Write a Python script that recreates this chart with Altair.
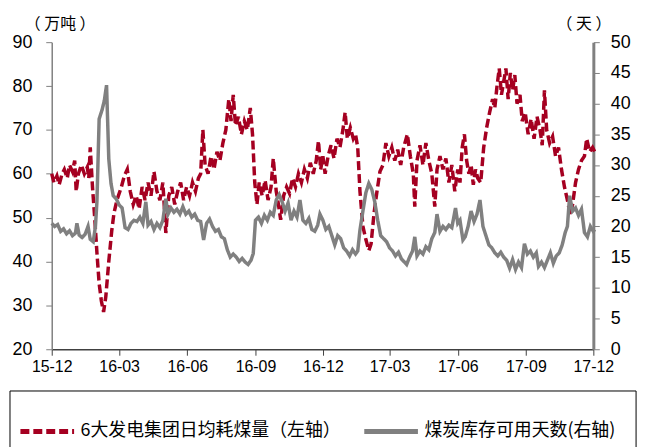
import altair as alt
import pandas as pd

RED = "#A50021"
GREY = "#808080"
S1 = "6大发电集团日均耗煤量（左轴）"
S2 = "煤炭库存可用天数(右轴)"

red_pts = [
    ("2015-12-01", 60), ("2015-12-04", 58), ("2015-12-08", 59.5), ("2015-12-11", 57.5),
    ("2015-12-15", 60), ("2015-12-18", 61), ("2015-12-22", 59), ("2015-12-25", 62),
    ("2015-12-29", 60.5), ("2016-01-01", 63), ("2016-01-03", 56), ("2016-01-06", 60),
    ("2016-01-10", 62), ("2016-01-14", 60), ("2016-01-18", 61.5), ("2016-01-20", 59),
    ("2016-01-22", 66), ("2016-01-25", 57), ("2016-01-28", 50), ("2016-01-31", 42),
    ("2016-02-03", 35), ("2016-02-06", 31), ("2016-02-09", 28.5), ("2016-02-12", 32),
    ("2016-02-16", 40), ("2016-02-20", 47), ("2016-02-23", 51), ("2016-02-27", 54),
    ("2016-03-04", 57), ("2016-03-08", 59.5), ("2016-03-12", 61), ("2016-03-16", 56),
    ("2016-03-20", 53), ("2016-03-24", 55), ("2016-03-28", 52), ("2016-04-01", 57),
    ("2016-04-05", 54), ("2016-04-09", 58), ("2016-04-13", 55), ("2016-04-17", 60.5),
    ("2016-04-21", 56), ("2016-04-25", 54), ("2016-04-29", 58), ("2016-05-03", 46.5),
    ("2016-05-07", 55), ("2016-05-11", 57), ("2016-05-15", 53), ("2016-05-19", 56),
    ("2016-05-23", 58), ("2016-05-27", 54), ("2016-05-31", 57), ("2016-06-04", 55),
    ("2016-06-08", 58), ("2016-06-12", 56), ("2016-06-16", 59), ("2016-06-19", 60),
    ("2016-06-22", 70), ("2016-06-25", 62), ("2016-06-29", 60), ("2016-07-03", 64),
    ("2016-07-07", 61), ("2016-07-11", 65), ("2016-07-15", 63), ("2016-07-19", 67),
    ("2016-07-23", 70), ("2016-07-27", 77), ("2016-07-30", 72), ("2016-08-02", 78),
    ("2016-08-05", 71), ("2016-08-09", 73), ("2016-08-13", 69), ("2016-08-17", 72),
    ("2016-08-21", 70), ("2016-08-25", 75), ("2016-08-28", 69), ("2016-08-31", 58),
    ("2016-09-03", 53), ("2016-09-06", 58), ("2016-09-10", 55), ("2016-09-14", 58.5),
    ("2016-09-18", 54), ("2016-09-22", 57), ("2016-09-25", 63.5), ("2016-09-29", 56),
    ("2016-10-02", 53), ("2016-10-05", 49.5), ("2016-10-09", 55), ("2016-10-13", 57),
    ("2016-10-17", 55.5), ("2016-10-21", 59), ("2016-10-25", 57), ("2016-10-29", 60),
    ("2016-11-02", 58), ("2016-11-06", 61), ("2016-11-10", 59), ("2016-11-14", 62.5),
    ("2016-11-18", 60), ("2016-11-22", 63), ("2016-11-25", 67.5), ("2016-11-28", 61),
    ("2016-12-01", 64), ("2016-12-04", 60), ("2016-12-08", 64), ("2016-12-12", 66.5),
    ("2016-12-16", 63.5), ("2016-12-20", 68), ("2016-12-24", 66), ("2016-12-28", 70),
    ("2016-12-31", 74), ("2017-01-03", 68), ("2017-01-07", 70.5), ("2017-01-11", 68),
    ("2017-01-14", 69), ("2017-01-17", 66), ("2017-01-20", 56), ("2017-01-24", 48),
    ("2017-01-28", 45), ("2017-02-01", 42.5), ("2017-02-04", 44), ("2017-02-08", 51),
    ("2017-02-12", 56), ("2017-02-16", 60.5), ("2017-02-20", 62), ("2017-02-24", 67),
    ("2017-02-28", 64), ("2017-03-04", 66), ("2017-03-08", 63), ("2017-03-12", 65.5),
    ("2017-03-16", 62), ("2017-03-20", 66), ("2017-03-25", 69), ("2017-03-29", 64),
    ("2017-04-02", 60), ("2017-04-04", 52.5), ("2017-04-07", 63), ("2017-04-11", 66.5),
    ("2017-04-15", 62), ("2017-04-19", 67), ("2017-04-23", 63), ("2017-04-27", 60),
    ("2017-05-01", 52.5), ("2017-05-04", 61), ("2017-05-08", 64), ("2017-05-12", 61),
    ("2017-05-16", 63.5), ("2017-05-20", 58), ("2017-05-24", 62), ("2017-05-28", 56),
    ("2017-06-01", 61), ("2017-06-04", 58), ("2017-06-07", 66), ("2017-06-10", 69),
    ("2017-06-13", 63), ("2017-06-16", 60), ("2017-06-19", 62), ("2017-06-22", 57.5),
    ("2017-06-25", 61), ("2017-06-28", 59), ("2017-07-02", 58), ("2017-07-06", 66),
    ("2017-07-10", 70.5), ("2017-07-14", 74), ("2017-07-18", 77), ("2017-07-21", 75),
    ("2017-07-24", 80), ("2017-07-27", 84), ("2017-07-30", 78), ("2017-08-02", 81),
    ("2017-08-05", 84), ("2017-08-08", 77), ("2017-08-11", 83), ("2017-08-14", 79),
    ("2017-08-17", 82.5), ("2017-08-20", 76), ("2017-08-24", 78), ("2017-08-27", 72),
    ("2017-08-31", 74), ("2017-09-04", 69), ("2017-09-08", 72.5), ("2017-09-12", 68),
    ("2017-09-16", 73), ("2017-09-20", 70), ("2017-09-23", 66.5), ("2017-09-26", 79),
    ("2017-09-29", 70), ("2017-10-03", 67), ("2017-10-07", 68.5), ("2017-10-11", 64),
    ("2017-10-15", 66), ("2017-10-19", 61), ("2017-10-23", 57), ("2017-10-27", 54),
    ("2017-10-31", 50.5), ("2017-11-03", 53), ("2017-11-07", 58), ("2017-11-11", 61),
    ("2017-11-15", 63), ("2017-11-19", 64), ("2017-11-22", 68), ("2017-11-26", 65),
    ("2017-11-30", 66), ("2017-12-03", 65),
]

grey_pts = [
    ("2015-12-01", 20.5), ("2015-12-05", 20), ("2015-12-09", 20.3), ("2015-12-13", 19.2),
    ("2015-12-17", 19.6), ("2015-12-21", 18.8), ("2015-12-25", 19.3), ("2015-12-29", 18.5),
    ("2016-01-02", 18.9), ("2016-01-04", 20.5), ("2016-01-07", 18.6), ("2016-01-11", 18.2),
    ("2016-01-15", 18.7), ("2016-01-19", 20), ("2016-01-22", 17.9), ("2016-01-26", 17.5),
    ("2016-01-29", 20), ("2016-01-31", 24), ("2016-02-03", 37.5), ("2016-02-07", 39),
    ("2016-02-10", 40.5), ("2016-02-13", 43), ("2016-02-16", 31), ("2016-02-19", 27),
    ("2016-02-22", 25), ("2016-02-26", 24.5), ("2016-03-01", 23.5), ("2016-03-05", 23),
    ("2016-03-09", 19.8), ("2016-03-13", 19.5), ("2016-03-17", 20.5), ("2016-03-21", 21),
    ("2016-03-25", 20.8), ("2016-03-29", 21.5), ("2016-04-02", 20.5), ("2016-04-06", 24),
    ("2016-04-09", 20.2), ("2016-04-13", 20.8), ("2016-04-17", 19.5), ("2016-04-21", 20.5),
    ("2016-04-25", 19.8), ("2016-04-29", 21), ("2016-05-03", 24.5), ("2016-05-06", 22),
    ("2016-05-10", 23), ("2016-05-14", 22.3), ("2016-05-18", 22.8), ("2016-05-22", 22),
    ("2016-05-26", 23.2), ("2016-05-30", 22), ("2016-06-03", 22.5), ("2016-06-07", 21.5),
    ("2016-06-11", 22), ("2016-06-15", 21), ("2016-06-19", 20.8), ("2016-06-23", 17.8),
    ("2016-06-27", 20.5), ("2016-07-01", 21.2), ("2016-07-05", 20), ("2016-07-09", 19.2),
    ("2016-07-13", 19.5), ("2016-07-17", 18.3), ("2016-07-21", 18), ("2016-07-25", 16.2),
    ("2016-07-29", 15), ("2016-08-02", 15.5), ("2016-08-06", 15), ("2016-08-10", 14.3),
    ("2016-08-14", 14.8), ("2016-08-18", 14.2), ("2016-08-22", 13.8), ("2016-08-26", 14.5),
    ("2016-08-29", 15.6), ("2016-09-01", 21), ("2016-09-05", 21.5), ("2016-09-09", 20.5),
    ("2016-09-13", 21.8), ("2016-09-17", 21), ("2016-09-21", 22.3), ("2016-09-25", 21.8),
    ("2016-09-29", 24.3), ("2016-10-03", 25.2), ("2016-10-07", 24), ("2016-10-11", 22.5),
    ("2016-10-15", 23.8), ("2016-10-19", 21), ("2016-10-23", 22.5), ("2016-10-27", 21.5),
    ("2016-10-31", 24.3), ("2016-11-04", 21), ("2016-11-08", 20.5), ("2016-11-12", 21.3),
    ("2016-11-16", 19.5), ("2016-11-20", 19.2), ("2016-11-24", 20.2), ("2016-11-27", 22),
    ("2016-12-01", 21), ("2016-12-05", 19.5), ("2016-12-09", 20), ("2016-12-13", 18.5),
    ("2016-12-17", 17), ("2016-12-21", 18.5), ("2016-12-25", 18), ("2016-12-29", 16.5),
    ("2017-01-02", 16), ("2017-01-06", 15.2), ("2017-01-10", 16.2), ("2017-01-14", 15.5),
    ("2017-01-17", 16), ("2017-01-20", 19.4), ("2017-01-24", 22.5), ("2017-01-28", 25.5),
    ("2017-02-01", 27), ("2017-02-05", 26), ("2017-02-09", 24), ("2017-02-13", 21),
    ("2017-02-17", 18.5), ("2017-02-21", 18), ("2017-02-25", 17.5), ("2017-03-01", 16.5),
    ("2017-03-05", 16), ("2017-03-09", 15.2), ("2017-03-13", 15.8), ("2017-03-17", 14.7),
    ("2017-03-21", 14.2), ("2017-03-24", 13.8), ("2017-03-28", 15), ("2017-04-01", 16),
    ("2017-04-04", 18.3), ("2017-04-07", 15.2), ("2017-04-11", 16), ("2017-04-15", 15.5),
    ("2017-04-19", 16.7), ("2017-04-23", 16.2), ("2017-04-27", 18), ("2017-05-01", 19),
    ("2017-05-04", 22), ("2017-05-08", 19.2), ("2017-05-12", 20), ("2017-05-16", 19.5),
    ("2017-05-20", 20.2), ("2017-05-24", 19.8), ("2017-05-29", 23), ("2017-06-01", 20.5),
    ("2017-06-04", 21), ("2017-06-08", 17.8), ("2017-06-11", 18.3), ("2017-06-15", 20),
    ("2017-06-19", 22.5), ("2017-06-23", 20.8), ("2017-06-27", 22), ("2017-07-01", 24.3),
    ("2017-07-05", 20), ("2017-07-09", 18.5), ("2017-07-13", 17), ("2017-07-17", 16.5),
    ("2017-07-21", 15.7), ("2017-07-25", 15.2), ("2017-07-29", 15.8), ("2017-08-02", 15),
    ("2017-08-06", 14.5), ("2017-08-10", 13.2), ("2017-08-14", 14.6), ("2017-08-18", 13),
    ("2017-08-22", 14.2), ("2017-08-26", 13.3), ("2017-08-30", 17.2), ("2017-09-03", 15.5),
    ("2017-09-07", 16), ("2017-09-11", 15), ("2017-09-15", 15.7), ("2017-09-18", 13.5),
    ("2017-09-22", 14.2), ("2017-09-26", 13.3), ("2017-09-30", 14.5), ("2017-10-04", 15.7),
    ("2017-10-08", 14), ("2017-10-12", 15.2), ("2017-10-16", 15.7), ("2017-10-20", 17),
    ("2017-10-24", 19), ("2017-10-27", 20), ("2017-10-30", 25), ("2017-11-03", 22.5),
    ("2017-11-07", 23), ("2017-11-11", 21.8), ("2017-11-15", 22.8), ("2017-11-19", 19),
    ("2017-11-23", 18.3), ("2017-11-27", 20), ("2017-12-01", 19.2), ("2017-12-03", 19.5),
]

red_dates = [d for d, _ in red_pts]
red_values = [v for _, v in red_pts]
grey_dates = [d for d, _ in grey_pts]
grey_values = [v for _, v in grey_pts]

tick_months = [(2015, 12), (2016, 3), (2016, 6), (2016, 9), (2016, 12),
               (2017, 3), (2017, 6), (2017, 9), (2017, 12)]
left_ticks = [20, 30, 40, 50, 60, 70, 80, 90]
right_ticks = [0, 5, 10, 15, 20, 25, 30, 35, 40, 45, 50]

df_red = pd.DataFrame({"date": red_dates, "value": red_values, "series": S1})
df_grey = pd.DataFrame({"date": grey_dates, "value": grey_values, "series": S2})

tick_vals = [alt.DateTime(year=y, month=m, date=1, utc=True) for y, m in tick_months]
x_dom = [alt.DateTime(year=2015, month=12, date=1, utc=True),
         alt.DateTime(year=2017, month=12, date=1, utc=True)]

NUM_FONT = "Liberation Sans"
CJK_FONT = "Noto Sans CJK SC"

x_enc = alt.X(
    "date:T",
    scale=alt.Scale(type="utc", domain=x_dom, nice=False),
    axis=alt.Axis(values=tick_vals, format="%y-%m", title=None, grid=False,
                  labelFont=NUM_FONT, labelFontSize=16, labelColor="black",
                  labelPadding=3, tickSize=6, tickColor="#404040",
                  domainColor="#404040", domainWidth=1.5, labelFlush=False),
)

color_enc = alt.Color("series:N", scale=alt.Scale(domain=[S1, S2], range=[RED, GREY]),
                      legend=alt.Legend(title=None))
dash_enc = alt.StrokeDash("series:N",
                          scale=alt.Scale(domain=[S1, S2], range=[[9, 4], [1, 0]]),
                          legend=alt.Legend(title=None))

red_line = alt.Chart(df_red).mark_line(strokeWidth=3.5, strokeCap="butt").encode(
    x=x_enc,
    y=alt.Y("value:Q", scale=alt.Scale(domain=[20, 90], nice=False),
            axis=alt.Axis(values=left_ticks, title="（ 万吨 ）", titleAngle=0,
                          titleX=8, titleY=-19, titleAlign="center",
                          titleBaseline="middle", titleFont=CJK_FONT,
                          titleFontSize=16, titleFontWeight="normal", titleColor="black",
                          labelFont=NUM_FONT, labelFontSize=18, labelColor="black",
                          labelPadding=14, tickSize=6, tickColor="#808080",
                          domainColor="#808080", domainWidth=1.5, grid=False)),
    color=color_enc,
    strokeDash=dash_enc,
)

grey_line = alt.Chart(df_grey).mark_line(strokeWidth=3.5).encode(
    x=x_enc,
    y=alt.Y("value:Q", scale=alt.Scale(domain=[0, 50], nice=False),
            axis=alt.Axis(values=right_ticks, title="（ 天 ）", titleAngle=0,
                          titleX=-10, titleY=-19, titleAlign="center",
                          titleBaseline="middle", titleFont=CJK_FONT,
                          titleFontSize=16, titleFontWeight="normal", titleColor="black",
                          labelFont=NUM_FONT, labelFontSize=18, labelColor="black",
                          labelPadding=11, tickSize=6, tickColor="#808080",
                          domainColor="#808080", domainWidth=3, grid=False,
                          orient="right")),
    color=color_enc,
    strokeDash=dash_enc,
)

box = alt.Chart(pd.DataFrame({"k": [0]})).mark_rect(
    fill=None, stroke="black", strokeWidth=1
).encode(x=alt.value(-42), x2=alt.value(588), y=alt.value(351), y2=alt.value(430))

chart = alt.layer(red_line, grey_line, box).resolve_scale(y="independent").properties(
    width=545, height=309,
    autosize=alt.AutoSizeParams(type="none"),
    padding={"left": 44, "top": 33, "right": 55, "bottom": 100},
).configure_view(stroke=None).configure_legend(
    orient="none", legendX=-34, legendY=362, direction="horizontal",
    symbolType="stroke", symbolSize=2916, symbolStrokeWidth=5,
    labelFont=CJK_FONT, labelFontSize=18, labelColor="black", labelLimit=500,
    labelOffset=4, columnPadding=13, padding=0,
)

chart.save("out.html", embed_options={"renderer": "svg", "actions": False})
